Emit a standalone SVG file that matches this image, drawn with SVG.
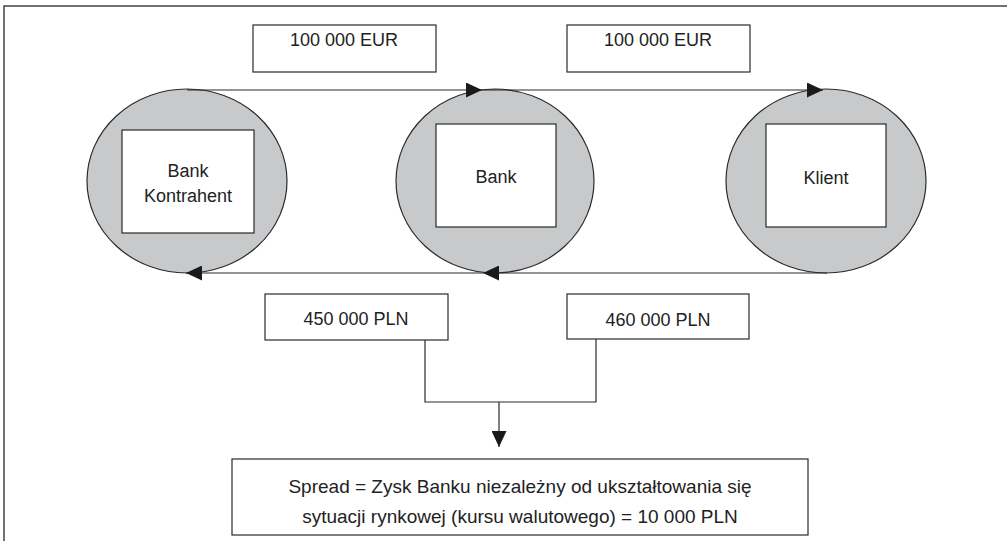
<svg xmlns="http://www.w3.org/2000/svg" width="1007" height="541" viewBox="0 0 1007 541">
<style>
  .frame{fill:none;stroke:#444;stroke-width:1.5}
  .ell{fill:#c8c9cb;stroke:#2a2a2a;stroke-width:1.2}
  .box{fill:#fff;stroke:#2a2a2a;stroke-width:1.2}
  .ln{fill:none;stroke:#2a2a2a;stroke-width:1.2}
  text{font-family:"Liberation Sans",Arial,sans-serif;font-size:18px;fill:#222;text-anchor:middle}
  .big{font-size:19px}
</style>
<defs>
  <marker id="ah" markerWidth="16" markerHeight="15" refX="16" refY="7.5" orient="auto" markerUnits="userSpaceOnUse">
    <path d="M0,0 L16,7.5 L0,15 Z" fill="#1a1a1a"/>
  </marker>
</defs>
<path class="frame" d="M4,541 V6 H1007"/>
<g id="eur1"><rect class="box" x="253" y="25" width="183" height="47"/><text x="344" y="46">100 000 EUR</text></g>
<g id="eur2"><rect class="box" x="567" y="25" width="183" height="47"/><text x="658" y="46">100 000 EUR</text></g>
<g id="bank-kontrahent"><ellipse class="ell" cx="187" cy="181" rx="100" ry="92"/><rect class="box" x="122" y="130" width="132" height="103"/><text x="188" y="177">Bank</text><text x="188" y="202">Kontrahent</text></g>
<g id="bank"><ellipse class="ell" cx="495" cy="181" rx="99" ry="92"/><rect class="box" x="436" y="124" width="120" height="103"/><text x="496" y="183">Bank</text></g>
<g id="klient"><ellipse class="ell" cx="826" cy="181" rx="100" ry="92"/><rect class="box" x="766" y="124" width="120" height="103"/><text x="826" y="184">Klient</text></g>
<g id="pln1"><rect class="box" x="265" y="294" width="183" height="46"/><text x="356" y="325">450 000 PLN</text></g>
<g id="pln2"><rect class="box" x="567" y="294" width="182" height="45"/><text x="658" y="326">460 000 PLN</text></g>
<g id="spread"><rect class="box" x="232" y="459" width="576" height="76"/><text class="big" x="520" y="493">Spread = Zysk Banku niezależny od ukształtowania się</text><text class="big" x="520" y="523">sytuacji rynkowej (kursu walutowego) = 10 000 PLN</text></g>
<g id="connectors">
  <line class="ln" x1="187" y1="90" x2="482" y2="90" marker-end="url(#ah)"/>
  <line class="ln" x1="482" y1="90" x2="823" y2="90" marker-end="url(#ah)"/>
  <line class="ln" x1="827" y1="273" x2="483" y2="273" marker-end="url(#ah)"/>
  <line class="ln" x1="483" y1="273" x2="186" y2="273" marker-end="url(#ah)"/>
  <path class="ln" d="M425,340 V402 H596 V339"/>
  <line class="ln" x1="499" y1="402" x2="499" y2="447" marker-end="url(#ah)"/>
</g>
</svg>
